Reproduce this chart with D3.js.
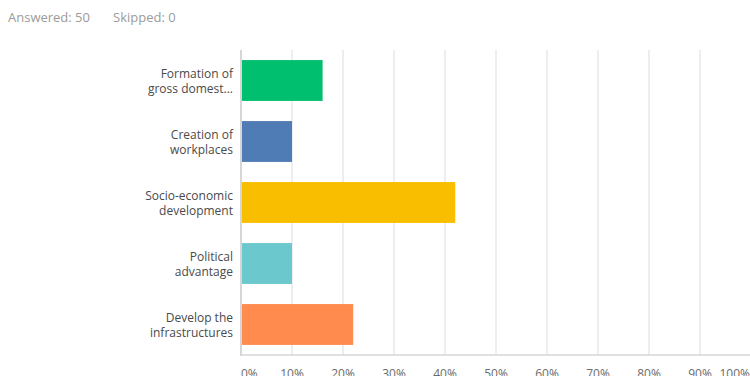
<!DOCTYPE html>
<html><head><meta charset="utf-8">
<script src="https://cdn.jsdelivr.net/npm/d3@7"></script>
<style>body{margin:0;background:#fff;} svg{display:block;}</style>
</head><body>
<svg id="chart" width="750" height="376"></svg>
<script>
const categories = [["Formation of","gross domest..."],["Creation of","workplaces"],["Socio-economic","development"],["Political","advantage"],["Develop the","infrastructures"]];
const values = [16, 10, 42, 10, 22];
const colors = ["#00BF6F","#507CB6","#F9BE00","#6BC8CD","#FF8B4F"];
const ticks = [0,10,20,30,40,50,60,70,80,90,100];
const tickLabels = ["0%","10%","20%","30%","40%","50%","60%","70%","80%","90%","100%"];
const answered = "Answered: 50", skipped = "Skipped: 0";

const svg = d3.select("#chart");
const font = "'Open Sans', sans-serif";
const m = {left:241, right:750, top:50, bottom:355};
const x = d3.scaleLinear().domain([0,100]).range([m.left, m.left+510]);
const y = d3.scaleBand().domain(d3.range(values.length)).range([m.top, m.bottom]).paddingInner(0.33).paddingOuter(0.165);

svg.append("text").attr("x",8).attr("y",22).attr("font-family",font).attr("font-size",13).attr("fill","#9b9b9b").text(answered);
svg.append("text").attr("x",113).attr("y",22).attr("font-family",font).attr("font-size",13).attr("fill","#9b9b9b").text(skipped);

// gridlines
svg.append("g").selectAll("line").data(ticks.slice(1)).join("line")
  .attr("x1",d=>x(d)).attr("x2",d=>x(d)).attr("y1",m.top).attr("y2",m.bottom)
  .attr("stroke","#e9e9e9").attr("stroke-width",1.5);

// bars
svg.append("g").selectAll("rect").data(values).join("rect")
  .attr("x",x(0)).attr("y",(d,i)=>y(i)).attr("width",d=>x(d)-x(0)).attr("height",y.bandwidth())
  .attr("fill",(d,i)=>colors[i]);

// axes lines
svg.append("line").attr("x1",m.left).attr("x2",m.left).attr("y1",m.top).attr("y2",m.bottom+1).attr("stroke","#d6d6d6").attr("stroke-width",2);
svg.append("line").attr("x1",m.left).attr("x2",750).attr("y1",m.bottom).attr("y2",m.bottom).attr("stroke","#d6d6d6").attr("stroke-width",1.5);

// category labels
const lab = svg.append("g").selectAll("text").data(categories).join("text")
  .attr("text-anchor","end").attr("font-family",font).attr("font-size",12).attr("fill","#4a4a4a");
lab.each(function(d,i){
  const c = y(i)+y.bandwidth()/2;
  d3.select(this).selectAll("tspan").data(d).join("tspan")
    .attr("x",233).attr("y",(t,j)=> c - 2.5 + j*14.5).text(t=>t);
});

// tick labels
svg.append("g").selectAll("text").data(ticks).join("text")
  .attr("x",(d,i)=> i===0 ? x(d) : (i===ticks.length-1 ? 750 : x(d)))
  .attr("y",378)
  .attr("text-anchor",(d,i)=> i===0 ? "start" : (i===ticks.length-1 ? "end" : "middle"))
  .attr("font-family",font).attr("font-size",12).attr("fill","#6b6b6b")
  .text((d,i)=>tickLabels[i]);
</script>
</body></html>
